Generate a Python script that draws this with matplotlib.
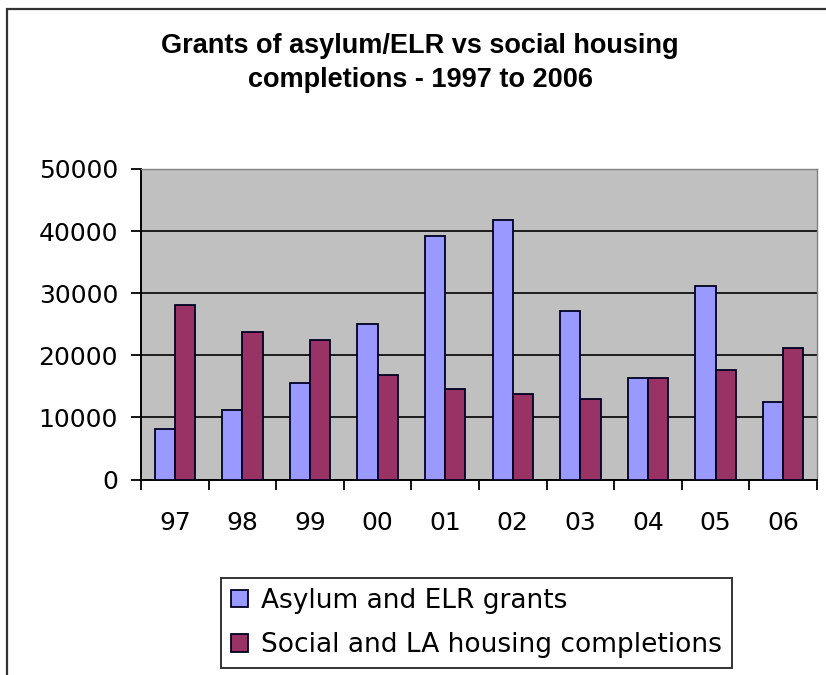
import matplotlib
matplotlib.use("Agg")
import matplotlib.pyplot as plt
from matplotlib.patches import Rectangle
import numpy as np

years = ["97", "98", "99", "00", "01", "02", "03", "04", "05", "06"]
asylum = [8100, 11200, 15500, 25100, 39200, 41800, 27100, 16400, 31100, 12500]
housing = [28100, 23800, 22500, 16800, 14600, 13800, 13000, 16400, 17700, 21100]
yticks = [0, 10000, 20000, 30000, 40000, 50000]
title = "Grants of asylum/ELR vs social housing\ncompletions - 1997 to 2006"
labels = ["Asylum and ELR grants", "Social and LA housing completions"]

plt.rcParams['font.family'] = ['DejaVu Sans']

W, H = 826, 675
fig = plt.figure(figsize=(W / 100, H / 100), dpi=100)
fig.patch.set_facecolor("white")

ax = fig.add_axes([141 / W, 1 - 479.5 / H, (817 - 141) / W, (479.5 - 169) / H])
ax.set_facecolor("#C0C0C0")

x = np.arange(len(years))
bw = 0.3
b1 = ax.bar(x - bw / 2, asylum, bw, color="#9999FF", edgecolor="#000022", linewidth=1.3, zorder=3, label=labels[0])
b2 = ax.bar(x + bw / 2, housing, bw, color="#993366", edgecolor="#000022", linewidth=1.3, zorder=3, label=labels[1])

ax.set_xlim(-0.5, len(years) - 0.5)
ax.set_ylim(0, 50000)
ax.set_yticks(yticks)
ax.set_yticklabels([str(v) for v in yticks])
ax.yaxis.grid(True, color="black", linewidth=1.2, zorder=1)
ax.set_axisbelow(True)

ax.set_xticks(x)
ax.set_xticklabels(years)
ax.tick_params(axis="x", which="major", length=0, pad=23, labelsize=18)
ax.set_xticks(np.arange(-0.5, len(years)), minor=True)
ax.tick_params(axis="x", which="minor", length=7, width=1.3, color="black", direction="out")
ax.tick_params(axis="y", length=7, width=1.3, color="black", direction="out", pad=9.5, labelsize=18)

for s in ["left", "bottom"]:
    ax.spines[s].set_color("black")
    ax.spines[s].set_linewidth(1.4)
for s in ["top", "right"]:
    ax.spines[s].set_color("#808080")
    ax.spines[s].set_linewidth(1.0)

fig.text(0.5 * (152 + 688) / W, 1 - 63 / H, title, ha="center", va="center",
         fontsize=19.5, fontweight="bold", linespacing=1.42, family="Liberation Sans")

leg = fig.legend(handles=[b1, b2], labels=labels, loc="center",
                 bbox_to_anchor=((220 + 733) / 2 / W, 1 - (575 + 671) / 2 / H),
                 fontsize=19, frameon=True, fancybox=False, edgecolor="black",
                 handlelength=0.65, handleheight=0.65, handletextpad=0.5,
                 labelspacing=0.7, borderpad=0.38)
leg.get_frame().set_linewidth(1.4)

fig.add_artist(Rectangle((7 / W, -0.2), 1.5, 1.2 - 9 / H, transform=fig.transFigure,
                         fill=False, edgecolor="#333333", linewidth=1.6))

fig.savefig("out.png", dpi=100)
